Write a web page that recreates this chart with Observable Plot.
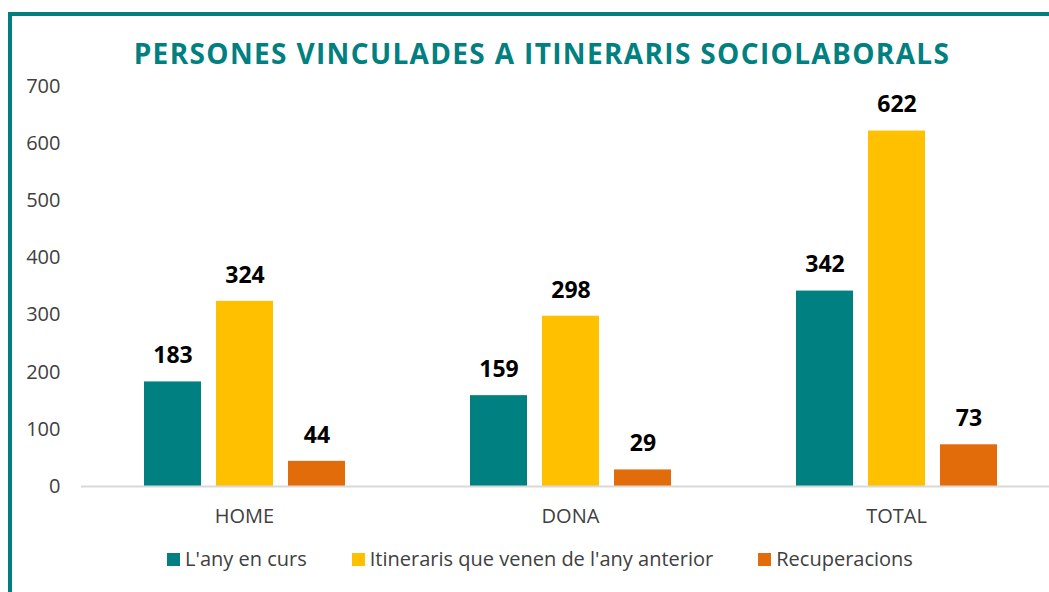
<!DOCTYPE html>
<html>
<head>
<meta charset="utf-8">
<script src="https://cdn.jsdelivr.net/npm/d3@7"></script>
<script src="https://cdn.jsdelivr.net/npm/@observablehq/plot@0.6"></script>
<style>
  html, body { margin: 0; padding: 0; background: #fff; overflow: hidden; width: 1049px; height: 592px; }
  #frame { position: absolute; left: 8px; top: 12px; width: 1100px; height: 700px; border-left: 4px solid #007F7E; border-top: 4px solid #007F7E; box-sizing: border-box; }
  #title { position: absolute; left: 0; width: 1084px; top: 33px; text-align: center; font-family: "Open Sans", sans-serif; font-weight: 700; font-size: 28px; letter-spacing: 1.35px; color: #008080; line-height: 40px; white-space: nowrap; }
  #chart { position: absolute; left: 0; top: 0; }
  #legend { position: absolute; left: 0; width: 1080px; top: 546px; display: flex; justify-content: center; gap: 45px; font-family: "Open Sans", sans-serif; font-size: 20px; color: #404040; line-height: 26px; }
  .item { display: flex; align-items: center; white-space: nowrap; }
  .sw { width: 13px; height: 13px; margin-right: 5px; display: inline-block; }
</style>
</head>
<body>
<div id="frame"></div>
<div id="chart"></div>
<div id="title">PERSONES VINCULADES A ITINERARIS SOCIOLABORALS</div>
<div id="legend"></div>
<script>
const categories = ["HOME", "DONA", "TOTAL"];
const seriesNames = ["L'any en curs", "Itineraris que venen de l'any anterior", "Recuperacions"];
const seriesColors = ["#008080", "#FFC000", "#E36C0A"];
const anyEnCurs = [183, 159, 342];
const anyAnterior = [324, 298, 622];
const recuperacions = [44, 29, 73];
const yTicks = [0, 100, 200, 300, 400, 500, 600, 700];

const seriesValues = [anyEnCurs, anyAnterior, recuperacions];
const table = [];
categories.forEach((c, i) => {
  seriesNames.forEach((s, j) => {
    table.push({cat: c, series: s, value: seriesValues[j][i]});
  });
});

const chart = Plot.plot({
  width: 1049,
  height: 592,
  marginTop: 86,
  marginBottom: 106,
  marginLeft: 81,
  marginRight: -10,
  style: {fontFamily: "'Open Sans', sans-serif", fontSize: "20px", color: "#404040", background: "transparent", overflow: "visible"},
  fx: {domain: categories, padding: 0, axis: "bottom", tickSize: 0, tickPadding: 22, label: null},
  x: {domain: seriesNames, axis: null, paddingInner: 0.21, paddingOuter: 0.855},
  y: {domain: [0, 700], ticks: yTicks, tickSize: 0, tickPadding: 21, label: null, tickFormat: d => String(d)},
  color: {domain: seriesNames, range: seriesColors},
  marks: [
    Plot.barY(table, {fx: "cat", x: "series", y: "value", fill: "series"}),
    Plot.ruleY([0], {stroke: "#D9D9D9", strokeWidth: 2}),
    Plot.text(table, {fx: "cat", x: "series", y: "value", text: d => String(d.value), dy: -26, fontSize: 23, fontWeight: 700, fill: "#000"})
  ]
});
document.getElementById("chart").appendChild(chart);

const legend = document.getElementById("legend");
seriesNames.forEach((s, i) => {
  const item = document.createElement("div");
  item.className = "item";
  const sw = document.createElement("span");
  sw.className = "sw";
  sw.style.background = seriesColors[i];
  const t = document.createElement("span");
  t.textContent = s;
  item.appendChild(sw);
  item.appendChild(t);
  legend.appendChild(item);
});
</script>
</body>
</html>
